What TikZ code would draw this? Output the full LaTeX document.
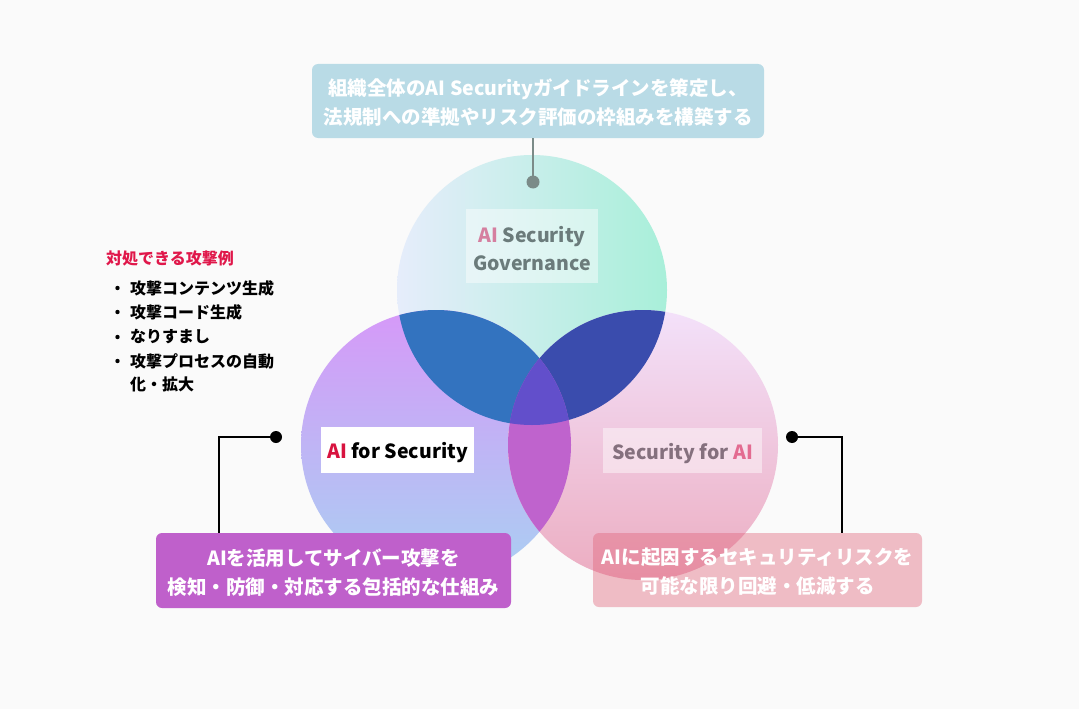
\documentclass[tikz,border=0pt]{standalone}
\usepackage{fontspec}
\setmainfont{Noto Sans CJK JP}
\definecolor{bgc}{HTML}{FAFAFA}
\definecolor{topboxc}{HTML}{B9DBE6}
\definecolor{govL}{HTML}{E6EDFB}
\definecolor{govR}{HTML}{A8EFD9}
\definecolor{aiT}{HTML}{D699F8}
\definecolor{aiB}{HTML}{A9D0F2}
\definecolor{secT}{HTML}{F3E1FA}
\definecolor{secB}{HTML}{ECADC1}
\definecolor{intTL}{HTML}{3373BF}
\definecolor{intTR}{HTML}{3A4CAD}
\definecolor{intLR}{HTML}{BF63CD}
\definecolor{intAll}{HTML}{624FCB}
\definecolor{leftboxc}{HTML}{BF60CB}
\definecolor{rightboxc}{RGB}{224,96,118}
\definecolor{redAI}{HTML}{D8133F}
\definecolor{titlered}{HTML}{E0174A}
\definecolor{govAI}{HTML}{D57FA0}
\definecolor{govtext}{HTML}{6B7B7B}
\definecolor{sectext}{HTML}{85707E}
\definecolor{secAI}{HTML}{E36B91}
\definecolor{graydot}{HTML}{7B8B88}
\tikzset{
  descbox/.style={rounded corners=6pt, inner sep=0pt},
  desctext/.style={inner sep=0pt, text=white, align=center, yshift=-2pt,
    font=\bfseries\fontsize{19.5}{29}\selectfont},
  labelbox/.style={inner sep=0pt},
  labeltext/.style={inner sep=0pt, align=center, yshift=-3pt, font=\bfseries\fontsize{19.5}{28}\selectfont},
  dotnode/.style={circle, minimum size=12pt, inner sep=0pt},
  connector/.style={line width=2pt},
  listtext/.style={anchor=west, inner sep=0pt, font=\bfseries\fontsize{16}{24}\selectfont},
}
\begin{document}
\begin{tikzpicture}[x=1pt,y=-1pt]
\useasboundingbox (0,0) rectangle (1079,709);
\fill[bgc] (0,0) rectangle (1079,709);

% circles
\coordinate (G) at (532,290);
\coordinate (L) at (436,445);
\coordinate (R) at (643,445);
\shade[left color=govL, right color=govR] (G) circle (135pt);
\shade[top color=aiT, bottom color=aiB] (L) circle (135pt);
\shade[top color=secT, bottom color=secB] (R) circle (135pt);
\begin{scope}
  \clip (G) circle (135pt);
  \fill[intTL] (L) circle (135pt);
  \fill[intTR] (R) circle (135pt);
\end{scope}
\begin{scope}
  \clip (L) circle (135pt);
  \fill[intLR] (R) circle (135pt);
\end{scope}
\begin{scope}
  \clip (G) circle (135pt);
  \clip (L) circle (135pt);
  \fill[intAll] (R) circle (135pt);
\end{scope}

% circle labels
\node[labelbox, fill=white, fill opacity=0.45, minimum width=132pt, minimum height=74pt]
  (govlabel) at (532,246) {};
\node[labeltext, text=govtext] (govlabeltext) at (govlabel.center)
  {\textcolor{govAI}{AI} Security\\Governance};
\node[labelbox, fill=white, minimum width=153pt, minimum height=46pt]
  (ailabel) at (397.5,450) {};
\node[labeltext, text=black] (ailabeltext) at (ailabel.center)
  {\textcolor{redAI}{AI} for Security};
\node[labelbox, fill=white, fill opacity=0.45, minimum width=159pt, minimum height=45pt]
  (seclabel) at (682.5,450.5) {};
\node[labeltext, text=sectext] (seclabeltext) at (seclabel.center)
  {Security for \textcolor{secAI}{AI}};

% top description
\node[descbox, fill=topboxc, minimum width=452pt, minimum height=74pt] (govdesc) at (538,101) {};
\node[desctext] (govdesctext) at (govdesc.center)
  {組織全体のAI Securityガイドラインを策定し、\\法規制への準拠やリスク評価の枠組みを構築する};
\node[dotnode, fill=graydot, minimum size=13pt] (gdot) at (533,182) {};
\draw[connector, graydot, line width=2.5pt] (gdot |- govdesc.south) -- (gdot.center);

% left description
\node[dotnode, fill=black] (ldot) at (276,437) {};
\coordinate (lc) at (219,437);
\node[descbox, fill=leftboxc, minimum width=355pt, minimum height=75pt] (aidesc) at (333.5,570.5) {};
\node[desctext] (aidesctext) at (aidesc.center)
  {AIを活用してサイバー攻撃を\\検知・防御・対応する包括的な仕組み};
\draw[connector] (ldot.center) -- (lc) -- (lc |- aidesc.north);

% right description
\node[dotnode, fill=black] (rdot) at (792,437) {};
\coordinate (rc) at (842,437);
\draw[connector] (rdot.center) -- (rc) -- (rc |- 0,533);
\node[descbox, fill=rightboxc, fill opacity=0.4, minimum width=329pt, minimum height=74pt]
  (secdesc) at (757.5,570) {};
\node[desctext] (secdesctext) at (secdesc.center)
  {AIに起因するセキュリティリスクを\\可能な限り回避・低減する};

% attack list
\node[listtext, text=titlered] (ltitle) at (106,258) {対処できる攻撃例};
\foreach \y/\t [count=\i] in {288/攻撃コンテンツ生成, 312/攻撃コード生成, 337/なりすまし, 361/攻撃プロセスの自動}{
  \node[listtext] (item\i) at (130,\y) {\t};
  \fill (117.5,\y) circle (2.2pt);
}
\node[listtext] (item5) at (130,384) {化・拡大};
\end{tikzpicture}
\end{document}
